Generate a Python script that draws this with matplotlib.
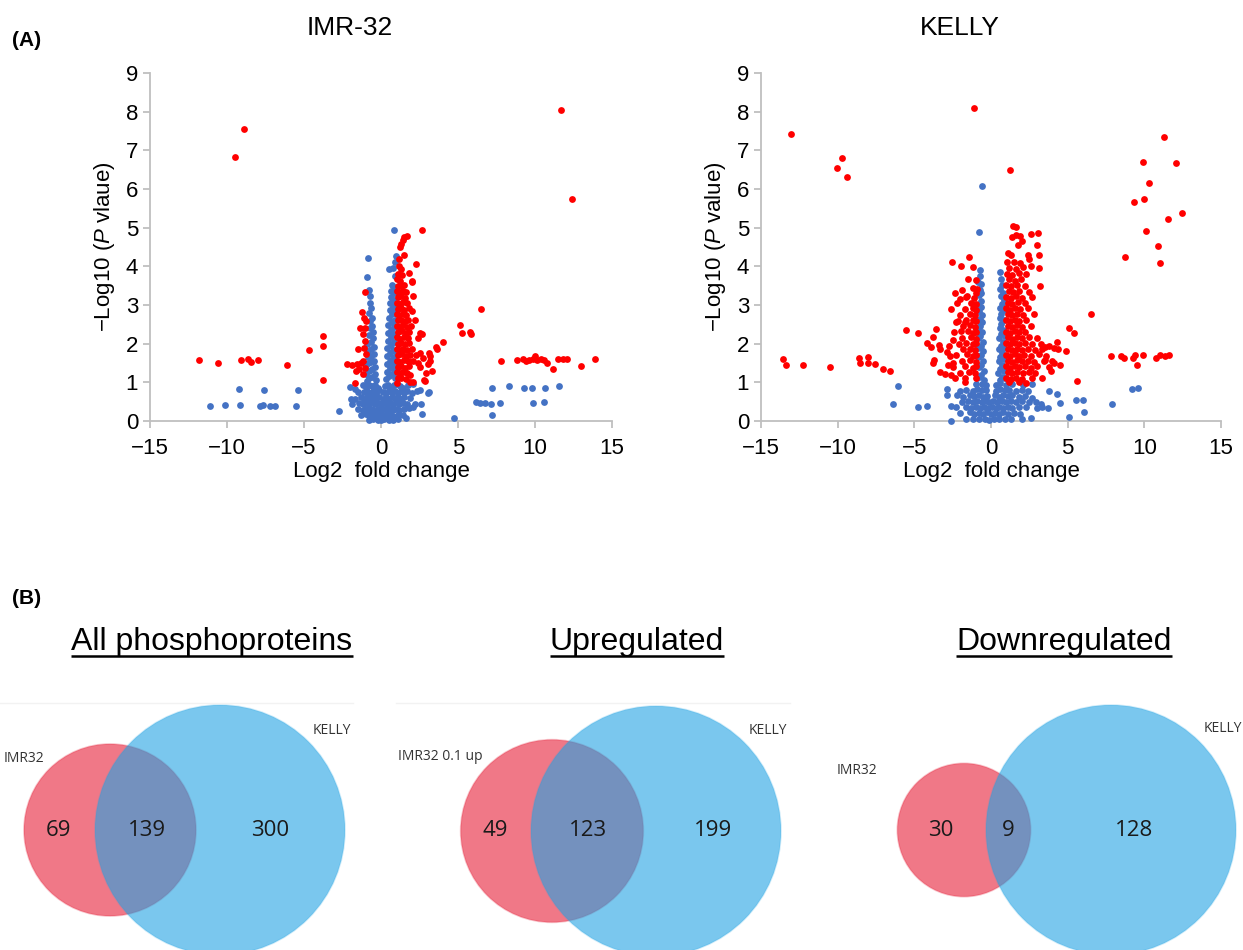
import matplotlib
matplotlib.use("Agg")
import matplotlib.pyplot as plt
import numpy as np
from matplotlib.patches import Circle

plt.rcParams['font.family'] = ['Liberation Sans', 'DejaVu Sans']
plt.rcParams['mathtext.fontset'] = 'custom'
plt.rcParams['mathtext.rm'] = 'Liberation Sans'
plt.rcParams['mathtext.it'] = 'Liberation Sans:italic'

# ---------------- data: volcano plots (log2 FC, -log10 p) ----------------
imr_blue_pts = [
    # far left / far right, not significant
    (-11.08, 0.39), (-10.16, 0.41), (-9.16, 0.41), (-9.24, 0.83), (-7.88, 0.40),
    (-7.63, 0.41), (-7.58, 0.81), (-7.19, 0.38), (-6.89, 0.40), (-5.50, 0.38),
    (-5.40, 0.80), (-2.71, 0.27),
    (4.71, 0.09), (6.17, 0.50), (6.42, 0.46), (6.76, 0.47), (7.14, 0.45), (7.24, 0.16),
    (7.19, 0.86), (7.73, 0.47), (8.32, 0.91), (9.29, 0.86), (9.80, 0.86), (9.88, 0.47),
    (10.67, 0.86), (10.57, 0.49), (11.54, 0.91),
    # left arm
    (-0.86, 4.22), (-0.89, 3.72), (-0.80, 3.38), (-0.74, 3.22), (-0.70, 3.06), (-0.64, 2.92),
    (-0.76, 2.80), (-0.60, 2.66), (-0.72, 2.58), (-0.56, 2.46), (-0.74, 2.40), (-0.54, 2.30),
    (-0.80, 2.22), (-0.52, 2.14), (-0.68, 2.04), (-0.88, 2.00), (-0.48, 1.92), (-0.66, 1.86),
    (-0.86, 1.82), (-0.46, 1.74), (-0.64, 1.68), (-0.84, 1.66), (-0.44, 1.56), (-0.62, 1.52),
    (-0.82, 1.50), (-0.98, 1.44), (-0.42, 1.40), (-0.60, 1.34), (-0.78, 1.30), (-0.96, 1.22),
    (-0.38, 1.22), (-0.56, 1.14), (-0.76, 1.10), (-0.94, 1.04), (-0.30, 1.06),
    # right arm
    (0.82, 4.95), (0.95, 4.28), (0.90, 4.10), (0.54, 3.92), (0.80, 3.96), (0.88, 3.76),
    (0.72, 3.52), (0.86, 3.46), (0.66, 3.36), (0.82, 3.30), (0.62, 3.20), (0.78, 3.12),
    (0.60, 3.04), (0.94, 3.00), (0.76, 2.94), (0.56, 2.86), (0.92, 2.82), (0.72, 2.76),
    (0.52, 2.66), (0.88, 2.62), (0.70, 2.56), (0.48, 2.48), (0.86, 2.44), (0.66, 2.36),
    (0.46, 2.28), (0.84, 2.24), (0.64, 2.16), (0.44, 2.08), (0.82, 2.04), (0.62, 1.96),
    (0.42, 1.88), (0.80, 1.84), (0.60, 1.76), (0.40, 1.68), (0.96, 1.70), (0.78, 1.62),
    (0.58, 1.56), (0.38, 1.48), (0.94, 1.50), (0.76, 1.42), (0.56, 1.36), (0.36, 1.28),
    (0.92, 1.30), (0.74, 1.22), (0.54, 1.16), (0.34, 1.08), (0.90, 1.10),
    # base of the volcano
    (-1.20, 0.92), (-1.00, 0.88), (-0.80, 0.94), (-0.60, 0.90), (-0.40, 0.93), (-0.20, 0.86),
    (0.25, 0.90), (0.45, 0.94), (0.65, 0.88), (0.85, 0.92), (1.05, 0.95), (1.25, 0.90),
    (1.45, 0.86), (1.75, 0.93), (2.10, 0.95),
    (-1.50, 0.76), (-1.10, 0.74), (-0.90, 0.78), (-0.70, 0.72), (-0.50, 0.77), (-0.30, 0.73),
    (-0.10, 0.79), (0.10, 0.75), (0.30, 0.72), (0.50, 0.78), (0.70, 0.74), (0.90, 0.77),
    (1.10, 0.73), (1.30, 0.78), (1.50, 0.74), (1.70, 0.77), (2.00, 0.72), (2.32, 0.78),
    (-1.70, 0.58), (-1.30, 0.62), (-1.10, 0.57), (-0.90, 0.61), (-0.70, 0.58), (-0.50, 0.63),
    (-0.30, 0.59), (-0.10, 0.62), (0.10, 0.57), (0.30, 0.61), (0.50, 0.58), (0.70, 0.63),
    (0.90, 0.59), (1.10, 0.62), (1.30, 0.57), (1.50, 0.61), (1.90, 0.60),
    (-1.90, 0.45), (-1.40, 0.47), (-1.20, 0.43), (-1.00, 0.46), (-0.80, 0.44), (-0.60, 0.48),
    (-0.40, 0.43), (-0.20, 0.46), (0.00, 0.44), (0.20, 0.47), (0.40, 0.43), (0.60, 0.46),
    (0.80, 0.44), (1.00, 0.48), (1.20, 0.43), (1.40, 0.46), (1.70, 0.44), (2.20, 0.45),
    (-1.50, 0.31), (-1.20, 0.28), (-1.00, 0.32), (-0.80, 0.29), (-0.60, 0.31), (-0.40, 0.27),
    (-0.20, 0.32), (0.00, 0.29), (0.20, 0.31), (0.40, 0.28), (0.60, 0.32), (0.80, 0.29),
    (1.00, 0.31), (1.20, 0.28), (1.50, 0.30), (1.80, 0.33),
    (-1.30, 0.15), (-1.00, 0.17), (-0.80, 0.13), (-0.60, 0.16), (-0.40, 0.14), (-0.20, 0.17),
    (0.00, 0.14), (0.20, 0.16), (0.40, 0.13), (0.60, 0.17), (0.80, 0.14), (1.10, 0.16),
    (1.40, 0.15),
    (-0.80, 0.03), (-0.50, 0.04), (-0.20, 0.02), (0.00, 0.03), (0.20, 0.04), (0.50, 0.02),
    (0.80, 0.03), (1.10, 0.04),
    (-2.01, 0.89), (-1.95, 0.56), (-1.69, 0.82), (3.07, 0.73), (2.58, 0.43), (2.64, 0.17),
    (2.53, 0.80), (2.10, 0.35), (1.60, 0.08), (3.10, 0.76),
]

imr_red_pts = [
    (-8.91, 7.56), (-9.47, 6.84), (11.67, 8.05), (12.39, 5.73),
    (-11.80, 1.59), (-10.57, 1.50), (-9.11, 1.59), (-8.63, 1.60), (-8.45, 1.53), (-7.99, 1.59),
    (-6.12, 1.46), (-4.68, 1.84), (-3.74, 2.20), (-3.79, 1.94), (-3.74, 1.07),
    (6.48, 2.90), (5.12, 2.47), (5.27, 2.28), (5.78, 2.29), (5.84, 2.26), (4.04, 2.05),
    (3.58, 1.91), (3.63, 1.86), (7.76, 1.55), (8.80, 1.59), (9.24, 1.60), (9.40, 1.56),
    (9.60, 1.58), (9.85, 1.60), (9.98, 1.69), (10.15, 1.58), (10.40, 1.60), (10.60, 1.59),
    (10.80, 1.50), (11.16, 1.34), (11.50, 1.60), (11.80, 1.60), (12.10, 1.60), (12.98, 1.42),
    (13.92, 1.60),
    # left of the blue arm
    (-1.04, 3.34), (-1.21, 2.82), (-1.08, 2.67), (-1.00, 2.59), (-1.36, 2.41), (-1.04, 2.41),
    (-1.15, 2.24), (-1.47, 1.87), (-1.04, 2.07), (-2.23, 1.47), (-1.58, 1.47), (-1.15, 1.55),
    (-1.04, 1.38), (-1.69, 0.97), (-1.30, 1.50), (-1.40, 1.35), (-1.60, 1.30), (-1.20, 1.22),
    (-1.90, 1.45), (-1.00, 1.72), (-1.10, 1.90),
    # main upregulated cluster
    (2.64, 4.94), (1.50, 4.75), (1.70, 4.78), (1.40, 4.67), (1.30, 4.58), (1.25, 4.50),
    (1.50, 4.30), (2.25, 4.07), (1.20, 4.20), (1.15, 4.02), (1.30, 3.92),
    (1.10, 3.80), (1.35, 3.78), (1.85, 3.82), (1.05, 3.66), (1.25, 3.63), (2.00, 3.62),
    (1.10, 3.50), (1.30, 3.48), (1.50, 3.52), (1.05, 3.36), (1.20, 3.33), (1.40, 3.37),
    (1.60, 3.34), (1.10, 3.20), (1.30, 3.22), (1.55, 3.18), (2.10, 3.23), (1.05, 3.06),
    (1.25, 3.03), (1.45, 3.07), (1.70, 3.04), (1.10, 2.90), (1.30, 2.92), (1.50, 2.88),
    (1.80, 2.91), (2.00, 2.84), (1.05, 2.76), (1.20, 2.73), (1.40, 2.77), (1.65, 2.74),
    (1.10, 2.60), (1.30, 2.62), (1.55, 2.58), (1.75, 2.61), (2.20, 2.60), (1.05, 2.46),
    (1.25, 2.43), (1.45, 2.47), (1.70, 2.44), (1.95, 2.46), (1.10, 2.30), (1.35, 2.32),
    (1.60, 2.28), (1.85, 2.31), (2.50, 2.27), (2.68, 2.24), (1.05, 2.16), (1.25, 2.13),
    (1.50, 2.17), (1.75, 2.14), (2.40, 2.15), (1.10, 2.00), (1.30, 2.02), (1.55, 1.98),
    (1.80, 2.01), (1.05, 1.86), (1.25, 1.83), (1.45, 1.87), (1.70, 1.84), (2.00, 1.86),
    (1.10, 1.70), (1.35, 1.72), (1.60, 1.68), (1.90, 1.71), (2.30, 1.70), (1.05, 1.56),
    (1.25, 1.53), (1.50, 1.57), (1.75, 1.54), (2.10, 1.56), (1.10, 1.40), (1.30, 1.42),
    (1.55, 1.38), (1.85, 1.41), (2.50, 1.40), (1.05, 1.26), (1.25, 1.23), (1.45, 1.27),
    (1.70, 1.24), (1.10, 1.10), (1.30, 1.12), (1.60, 1.08), (1.05, 0.98), (1.90, 1.00),
    (2.75, 1.64), (3.18, 1.68), (3.07, 1.47), (2.86, 1.03), (2.90, 1.25), (3.30, 1.30),
    (2.55, 1.75), (2.40, 1.50), (3.10, 1.75), (3.20, 1.54), (2.80, 1.07), (2.10, 1.00),
    (1.90, 1.20), (2.00, 3.60),
]

kelly_blue_pts = [
    (-0.59, 6.07), (-0.81, 4.89),
    (-6.06, 0.91), (-6.40, 0.44), (-4.74, 0.35), (-4.20, 0.40), (-2.60, 0.00), (-2.90, 0.83),
    (-2.85, 0.66), (-2.60, 0.40),
    (3.80, 0.77), (4.32, 0.69), (4.47, 0.47), (2.95, 0.49), (5.06, 0.10), (5.57, 0.55),
    (6.01, 0.55), (6.06, 0.23), (7.86, 0.44), (9.20, 0.83), (9.60, 0.86), (3.30, 0.36),
    (3.70, 0.34), (2.60, 0.09), (3.25, 0.45), (2.70, 0.60),
    # left arm
    (-0.75, 3.90), (-0.70, 3.75), (-0.82, 3.60), (-0.68, 3.55), (-0.74, 3.40), (-0.62, 3.30),
    (-0.80, 3.25), (-0.68, 3.10), (-0.82, 3.00), (-0.64, 2.95), (-0.76, 2.85), (-0.60, 2.75),
    (-0.72, 2.65), (-0.86, 2.60), (-0.58, 2.55), (-0.70, 2.45), (-0.84, 2.40), (-0.56, 2.30),
    (-0.70, 2.20), (-0.84, 2.15), (-0.54, 2.05), (-0.68, 1.95), (-0.82, 1.90), (-0.52, 1.80),
    (-0.66, 1.70), (-0.82, 1.65), (-0.50, 1.55), (-0.64, 1.45), (-0.80, 1.40), (-0.48, 1.30),
    (-0.62, 1.20), (-0.78, 1.15), (-0.92, 1.10), (-0.46, 1.05),
    # right arm
    (0.56, 3.85), (0.64, 3.68), (0.74, 3.52), (0.60, 3.42), (0.80, 3.32), (0.66, 3.22),
    (0.86, 3.12), (0.70, 3.02), (0.60, 2.92), (0.84, 2.86), (0.68, 2.76), (0.58, 2.66),
    (0.82, 2.60), (0.66, 2.50), (0.56, 2.40), (0.80, 2.35), (0.64, 2.25), (0.90, 2.20),
    (0.54, 2.15), (0.76, 2.05), (0.62, 1.95), (0.88, 1.90), (0.52, 1.85), (0.74, 1.75),
    (0.60, 1.65), (0.86, 1.60), (0.50, 1.55), (0.72, 1.45), (0.58, 1.35), (0.84, 1.30),
    (0.48, 1.25), (0.70, 1.15), (0.92, 1.10), (0.56, 1.05),
    # base
    (-1.00, 0.95), (-0.60, 0.96), (-0.30, 0.93), (0.30, 0.94), (0.60, 0.97), (0.95, 0.93),
    (1.40, 0.95), (2.10, 0.92), (2.70, 0.96),
    (-2.00, 0.78), (-1.60, 0.81), (-1.20, 0.77), (-0.90, 0.82), (-0.60, 0.79), (-0.35, 0.80),
    (0.35, 0.78), (0.60, 0.82), (0.90, 0.79), (1.20, 0.81), (1.60, 0.77), (2.00, 0.80),
    (2.40, 0.78),
    (-2.20, 0.66), (-1.80, 0.63), (-1.40, 0.67), (-1.10, 0.64), (-0.80, 0.66), (-0.50, 0.62),
    (-0.25, 0.65), (0.25, 0.67), (0.50, 0.63), (0.80, 0.66), (1.10, 0.64), (1.40, 0.67),
    (1.80, 0.63), (2.20, 0.65),
    (-1.90, 0.50), (-1.50, 0.52), (-1.20, 0.48), (-0.90, 0.51), (-0.60, 0.49), (-0.35, 0.52),
    (-0.10, 0.48), (0.15, 0.51), (0.40, 0.49), (0.70, 0.52), (1.00, 0.48), (1.30, 0.51),
    (1.60, 0.49), (2.00, 0.52), (2.50, 0.50),
    (-2.30, 0.35), (-1.60, 0.37), (-1.30, 0.33), (-1.00, 0.36), (-0.70, 0.34), (-0.45, 0.37),
    (-0.20, 0.33), (0.05, 0.36), (0.30, 0.34), (0.55, 0.37), (0.80, 0.33), (1.10, 0.36),
    (1.40, 0.34), (1.80, 0.37), (2.30, 0.35), (3.00, 0.34),
    (-2.00, 0.20), (-1.40, 0.22), (-1.10, 0.18), (-0.80, 0.21), (-0.50, 0.19), (-0.25, 0.22),
    (0.00, 0.18), (0.25, 0.21), (0.50, 0.19), (0.80, 0.22), (1.10, 0.18), (1.50, 0.21),
    (1.90, 0.19),
    (-1.60, 0.05), (-1.20, 0.06), (-0.80, 0.04), (-0.40, 0.06), (-0.10, 0.03), (0.20, 0.05),
    (0.50, 0.04), (0.90, 0.06), (1.30, 0.04), (2.00, 0.05),
]

kelly_red_pts = [
    (-13.05, 7.43), (-9.74, 6.81), (-10.07, 6.55), (-9.38, 6.32), (-1.10, 8.10), (1.23, 6.50),
    (11.30, 7.34), (9.94, 6.70), (12.05, 6.68), (10.30, 6.15), (9.35, 5.66), (9.99, 5.75),
    (12.43, 5.38), (11.53, 5.22), (10.10, 4.91), (10.89, 4.52), (11.02, 4.09), (8.76, 4.25),
    (-13.59, 1.60), (-13.38, 1.45), (-12.28, 1.45), (-10.53, 1.40), (-8.60, 1.64), (-8.55, 1.51),
    (-8.05, 1.66), (-8.00, 1.51), (-7.55, 1.48), (-7.05, 1.34), (-6.59, 1.29),
    (7.81, 1.68), (8.45, 1.68), (8.66, 1.62), (9.25, 1.62), (9.40, 1.70), (9.53, 1.46),
    (9.92, 1.70), (10.76, 1.62), (11.05, 1.70), (11.35, 1.68), (11.60, 1.70),
    (6.51, 2.76), (5.07, 2.41), (5.39, 2.28), (5.60, 1.03), (4.90, 1.81),
    # left scatter
    (-5.55, 2.36), (-4.78, 2.28), (-4.19, 2.02), (-3.58, 2.37), (-3.80, 2.18), (-3.90, 1.92),
    (-3.40, 1.97), (-3.30, 1.87), (-2.87, 1.78), (-2.65, 1.68), (-2.50, 1.51), (-3.75, 1.57),
    (-3.80, 1.49), (-3.30, 1.27), (-3.00, 1.22), (-2.35, 1.10), (-1.70, 1.00), (-2.57, 4.10),
    (-1.95, 4.00), (-1.41, 4.25), (-1.15, 3.97), (-1.48, 3.66), (-1.00, 3.65), (-0.90, 3.42),
    (-2.37, 3.32), (-2.04, 3.15), (-1.90, 3.40), (-1.58, 3.23), (-2.15, 2.58), (-1.72, 2.56),
    (-1.95, 2.33), (-2.60, 2.90), (-2.30, 2.55), (-2.75, 1.95), (-2.50, 2.10), (-2.80, 1.45),
    (-2.60, 1.20),
    # left dense
    (-1.20, 3.45), (-1.00, 3.32), (-1.60, 3.20), (-1.10, 3.18), (-2.20, 3.05), (-1.30, 3.06),
    (-1.00, 3.02), (-1.70, 2.90), (-1.15, 2.92), (-0.95, 2.88), (-2.00, 2.75), (-1.40, 2.77),
    (-1.05, 2.73), (-1.60, 2.60), (-1.20, 2.62), (-0.95, 2.58), (-1.80, 2.45), (-1.35, 2.47),
    (-1.05, 2.43), (-2.40, 2.30), (-1.50, 2.32), (-1.15, 2.28), (-0.95, 2.31), (-1.90, 2.15),
    (-1.30, 2.17), (-1.00, 2.13), (-2.10, 2.00), (-1.60, 2.02), (-1.20, 1.98), (-0.95, 2.01),
    (-1.80, 1.85), (-1.40, 1.87), (-1.05, 1.83), (-2.30, 1.70), (-1.55, 1.72), (-1.20, 1.68),
    (-0.95, 1.71), (-1.90, 1.55), (-1.35, 1.57), (-1.00, 1.53), (-2.50, 1.40), (-1.70, 1.42),
    (-1.20, 1.38), (-0.95, 1.41), (-2.00, 1.25), (-1.45, 1.27), (-1.05, 1.23), (-1.70, 1.10),
    (-1.00, 1.12),
    # right top
    (1.43, 5.05), (1.60, 5.02), (1.40, 4.75), (1.65, 4.80), (1.90, 4.78), (2.00, 4.65),
    (1.75, 4.55), (2.60, 4.83), (3.08, 4.86), (3.00, 4.55), (3.15, 4.30), (1.10, 4.35),
    (1.30, 4.30), (2.40, 4.30), (2.45, 4.20), (2.60, 4.00),
    # right dense
    (1.05, 4.10), (1.50, 4.12), (1.90, 4.08), (1.20, 3.96), (1.60, 3.94), (2.10, 3.97),
    (3.10, 3.95), (1.05, 3.81), (1.40, 3.78), (1.80, 3.82), (2.30, 3.79), (1.15, 3.66),
    (1.55, 3.63), (1.95, 3.67), (1.00, 3.51), (1.30, 3.49), (1.70, 3.52), (2.20, 3.48),
    (3.20, 3.50), (1.15, 3.36), (1.45, 3.33), (1.85, 3.37), (2.50, 3.34), (1.00, 3.21),
    (1.30, 3.18), (1.60, 3.22), (2.00, 3.19), (2.70, 3.21), (1.10, 3.06), (1.40, 3.03),
    (1.75, 3.07), (2.20, 3.04), (1.00, 2.91), (1.25, 2.88), (1.55, 2.92), (1.90, 2.89),
    (2.40, 2.91), (1.10, 2.76), (1.40, 2.73), (1.70, 2.77), (2.10, 2.74), (2.80, 2.76),
    (1.00, 2.61), (1.25, 2.58), (1.55, 2.62), (1.85, 2.59), (2.30, 2.61), (1.10, 2.46),
    (1.40, 2.43), (1.70, 2.47), (2.00, 2.44), (2.60, 2.46), (1.00, 2.31), (1.25, 2.28),
    (1.55, 2.32), (1.85, 2.29), (2.20, 2.31), (1.10, 2.16), (1.40, 2.13), (1.70, 2.17),
    (2.00, 2.14), (2.45, 2.16), (3.00, 2.14), (1.00, 2.01), (1.25, 1.98), (1.55, 2.02),
    (1.85, 1.99), (2.20, 2.01), (2.70, 1.98), (1.10, 1.86), (1.40, 1.83), (1.70, 1.87),
    (2.00, 1.84), (2.40, 1.86), (2.90, 1.83), (3.30, 1.86), (1.00, 1.71), (1.25, 1.68),
    (1.55, 1.72), (1.85, 1.69), (2.15, 1.71), (2.60, 1.68), (3.10, 1.72), (3.60, 1.69),
    (1.10, 1.56), (1.40, 1.53), (1.70, 1.57), (2.00, 1.54), (2.40, 1.56), (2.80, 1.53),
    (3.50, 1.57), (4.00, 1.54), (1.00, 1.41), (1.25, 1.38), (1.55, 1.42), (1.85, 1.39),
    (2.20, 1.41), (2.60, 1.38), (3.00, 1.42), (3.80, 1.39), (1.10, 1.26), (1.40, 1.23),
    (1.70, 1.27), (2.10, 1.24), (2.50, 1.26), (2.90, 1.23), (1.00, 1.11), (1.30, 1.08),
    (1.60, 1.12), (2.00, 1.09), (2.70, 1.11), (1.20, 1.00), (1.80, 1.01), (2.30, 0.99),
    (3.25, 1.98), (3.50, 1.92), (3.80, 1.95), (4.10, 1.90), (4.40, 1.85), (4.30, 2.05),
    (3.47, 1.55), (4.10, 1.50), (4.50, 1.45), (3.90, 1.30), (3.30, 1.10),
]

# ---------------- data: Venn diagrams ----------------
venn_titles = ["All phosphoproteins", "Upregulated", "Downregulated"]
venn_left_labels = ["IMR32", "IMR32 0.1 up", "IMR32"]
venn_right_labels = ["KELLY", "KELLY", "KELLY"]
venn_only_imr = [69, 49, 30]
venn_shared = [139, 123, 9]
venn_only_kelly = [300, 199, 128]

# ---------------- figure ----------------
W, H = 1243, 950
fig = plt.figure(figsize=(W / 100, H / 100), dpi=100)


def px_rect(x0, y0, x1, y1):
    return [x0 / W, 1 - y1 / H, (x1 - x0) / W, (y1 - y0) / H]


# background axes in pixel coordinates for panel B
axv = fig.add_axes([0, 0, 1, 1])
axv.set_xlim(0, W)
axv.set_ylim(H, 0)
axv.axis('off')

grey = '#bfbfbf'


def volcano(rect, blue, red, title, title_x, ylab):
    ax = fig.add_axes(px_rect(*rect))
    b = np.array(blue)
    r = np.array(red)
    ax.scatter(b[:, 0], b[:, 1], s=24, color='#4472c4', linewidths=0, clip_on=False, zorder=3)
    ax.scatter(r[:, 0], r[:, 1], s=24, color='#ff0000', linewidths=0, clip_on=False, zorder=4)
    ax.set_xlim(-15, 15)
    ax.set_ylim(0, 9)
    ax.set_xticks(range(-15, 16, 5))
    ax.set_yticks(range(0, 10))
    for s in ['top', 'right']:
        ax.spines[s].set_visible(False)
    for s in ['left', 'bottom']:
        ax.spines[s].set_color(grey)
        ax.spines[s].set_linewidth(1.3)
    ax.tick_params(direction='out', length=5, width=1.3, color=grey, labelsize=16)
    ax.tick_params(axis='x', pad=7)
    ax.set_xlabel('Log2  fold change', fontsize=16, labelpad=2)
    ax.set_ylabel('\u2212Log10 ($\\mathit{P}$ ' + ylab + ')', fontsize=16, labelpad=6)
    ax.patch.set_alpha(0)
    fig.text(title_x / W, 1 - 28 / H, title, fontsize=19, ha='center', va='center')
    return ax


volcano((150, 73, 612, 421), imr_blue_pts, imr_red_pts, 'IMR-32', 350, 'vlaue')
volcano((761, 73, 1221, 421), kelly_blue_pts, kelly_red_pts, 'KELLY', 960, 'value')

fig.text(27 / W, 1 - 40 / H, '(A)', fontsize=15, fontweight='bold', ha='center', va='center')
fig.text(27 / W, 1 - 598 / H, '(B)', fontsize=15, fontweight='bold', ha='center', va='center')

# Venn layout (pixels)
big_r = 125
venn_cy = [830, 831, 830]
venn_red_cx = [110, 552, 964]
venn_blue_cx = [220, 656, 1111]
venn_num_x = [(59, 147, 270), (495, 588, 713), (941, 1008, 1134)]
venn_title_x = [212, 637, 1064]
venn_left_lab_xy = [(24, 758), (440, 756), (857, 771)]
venn_right_lab_xy = [(332, 730), (768, 731), (1223, 729)]
venn_rule_x = [(0, 353), (396, 790), (0, 0)]

title_texts = []
for i in range(3):
    n_imr = venn_only_imr[i] + venn_shared[i]
    n_kel = venn_only_kelly[i] + venn_shared[i]
    r_red = big_r * np.sqrt(n_imr / n_kel)
    cy = venn_cy[i]
    x0, x1 = venn_rule_x[i]
    if x1 > x0:
        axv.plot([x0, x1], [703, 703], color='#f2f2f2', lw=1, zorder=0)
    axv.add_patch(Circle((venn_red_cx[i], cy), r_red, facecolor=(0.90, 0.12, 0.22, 0.6),
                         edgecolor=(0.90, 0.12, 0.22, 0.25), lw=1.2, zorder=1))
    axv.add_patch(Circle((venn_blue_cx[i], cy), big_r, facecolor=(0.13, 0.64, 0.89, 0.6),
                         edgecolor=(0.13, 0.64, 0.89, 0.2), lw=1.2, zorder=2))
    nums = [venn_only_imr[i], venn_shared[i], venn_only_kelly[i]]
    for nx, val in zip(venn_num_x[i], nums):
        axv.text(nx, cy, str(val), fontsize=16, ha='center', va='center', color='#1a1a1a',
                 family=['Open Sans', 'DejaVu Sans'], zorder=5)
    lx, ly = venn_left_lab_xy[i]
    axv.text(lx, ly, venn_left_labels[i], fontsize=10, ha='center', va='center', color='#333333',
             family=['Open Sans', 'DejaVu Sans'], zorder=5)
    rx, ry = venn_right_lab_xy[i]
    axv.text(rx, ry, venn_right_labels[i], fontsize=10, ha='center', va='center', color='#333333',
             family=['Open Sans', 'DejaVu Sans'], zorder=5)
    t = axv.text(venn_title_x[i], 650, venn_titles[i], fontsize=23, ha='center', va='baseline',
                 color='black', zorder=5)
    title_texts.append(t)

# underline the Venn titles
fig.canvas.draw()
renderer = fig.canvas.get_renderer()
inv = axv.transData.inverted()
for t in title_texts:
    bb = t.get_window_extent(renderer)
    (ux0, uy), (ux1, _) = inv.transform([(bb.x0, bb.y0 + 1), (bb.x1, bb.y0 + 1)])
    axv.plot([ux0, ux1], [uy, uy], color='black', lw=1.8, zorder=6, solid_capstyle='butt')

fig.savefig('out.png', dpi=100)
